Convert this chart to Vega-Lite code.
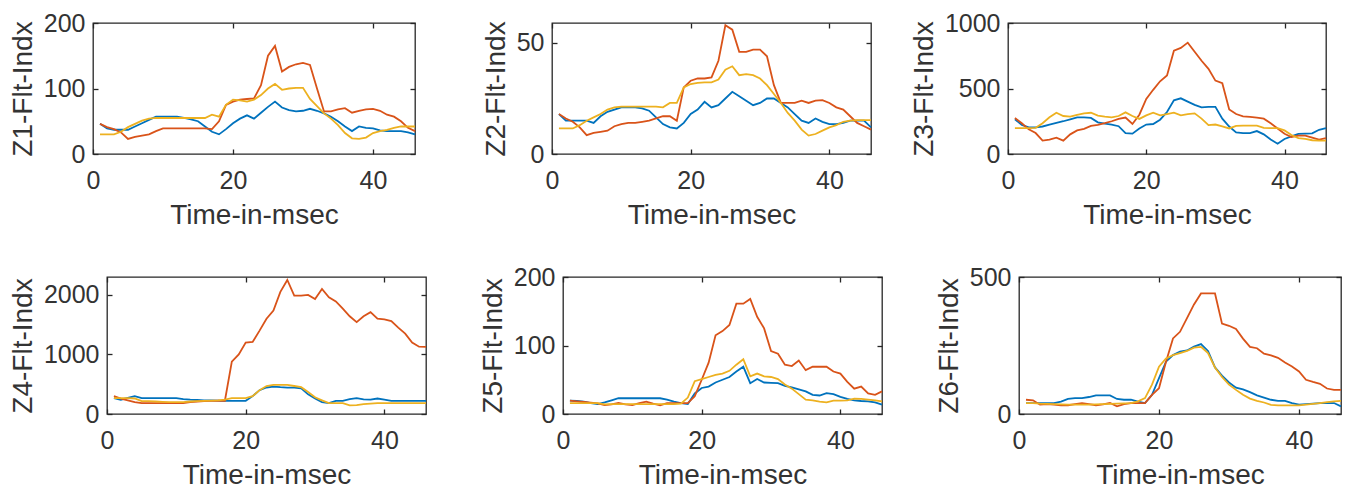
{
"$schema": "https://vega.github.io/schema/vega-lite/v6.json",
"background": "white",
"padding": {"left": 0, "top": 10, "right": 0, "bottom": 0},
"config": {
 "view": {"stroke": "#262626", "strokeWidth": 1.3},
 "axis": {"grid": false, "domain": false, "labelFont": "Liberation Sans", "labelFontSize": 25, "labelColor": "#333333", "labelFlush": false, "titleFont": "Liberation Sans", "titleFontSize": 28, "titleFontWeight": "normal", "titleColor": "#333333", "tickColor": "#262626", "tickSize": -5, "tickWidth": 1.3, "format": "d"},
 "axisX": {"labelPadding": 19, "titlePadding": 8},
 "axisY": {"labelPadding": 13, "titlePadding": 6}
},
"datasets": {
"z1": [
{"t":1,"s":"B","v":46},{"t":2,"s":"B","v":39},{"t":3,"s":"B","v":37},{"t":4,"s":"B","v":37},{"t":5,"s":"B","v":37},{"t":6,"s":"B","v":42},{"t":7,"s":"B","v":47},{"t":8,"s":"B","v":52},{"t":9,"s":"B","v":57},{"t":10,"s":"B","v":57},{"t":11,"s":"B","v":57},{"t":12,"s":"B","v":57},{"t":13,"s":"B","v":55},{"t":14,"s":"B","v":53},{"t":15,"s":"B","v":50},{"t":16,"s":"B","v":42},{"t":17,"s":"B","v":34},{"t":18,"s":"B","v":30},{"t":19,"s":"B","v":38},{"t":20,"s":"B","v":47},{"t":21,"s":"B","v":54},{"t":22,"s":"B","v":59},{"t":23,"s":"B","v":54},{"t":24,"s":"B","v":63},{"t":25,"s":"B","v":72},{"t":26,"s":"B","v":80},{"t":27,"s":"B","v":71},{"t":28,"s":"B","v":67},{"t":29,"s":"B","v":65},{"t":30,"s":"B","v":66},{"t":31,"s":"B","v":69},{"t":32,"s":"B","v":66},{"t":33,"s":"B","v":62},{"t":34,"s":"B","v":57},{"t":35,"s":"B","v":50},{"t":36,"s":"B","v":42},{"t":37,"s":"B","v":35},{"t":38,"s":"B","v":42},{"t":39,"s":"B","v":40},{"t":40,"s":"B","v":39},{"t":41,"s":"B","v":36},{"t":42,"s":"B","v":35},{"t":43,"s":"B","v":35},{"t":44,"s":"B","v":35},{"t":45,"s":"B","v":33},{"t":46,"s":"B","v":30},
{"t":1,"s":"R","v":46},{"t":2,"s":"R","v":41},{"t":3,"s":"R","v":38},{"t":4,"s":"R","v":33},{"t":5,"s":"R","v":23},{"t":6,"s":"R","v":26},{"t":7,"s":"R","v":28},{"t":8,"s":"R","v":30},{"t":9,"s":"R","v":35},{"t":10,"s":"R","v":39},{"t":11,"s":"R","v":39},{"t":12,"s":"R","v":39},{"t":13,"s":"R","v":39},{"t":14,"s":"R","v":39},{"t":15,"s":"R","v":39},{"t":16,"s":"R","v":39},{"t":17,"s":"R","v":38},{"t":18,"s":"R","v":50},{"t":19,"s":"R","v":75},{"t":20,"s":"R","v":80},{"t":21,"s":"R","v":83},{"t":22,"s":"R","v":84},{"t":23,"s":"R","v":85},{"t":24,"s":"R","v":105},{"t":25,"s":"R","v":150},{"t":26,"s":"R","v":165},{"t":27,"s":"R","v":126},{"t":28,"s":"R","v":133},{"t":29,"s":"R","v":137},{"t":30,"s":"R","v":139},{"t":31,"s":"R","v":136},{"t":32,"s":"R","v":100},{"t":33,"s":"R","v":65},{"t":34,"s":"R","v":65},{"t":35,"s":"R","v":68},{"t":36,"s":"R","v":70},{"t":37,"s":"R","v":63},{"t":38,"s":"R","v":66},{"t":39,"s":"R","v":68},{"t":40,"s":"R","v":69},{"t":41,"s":"R","v":66},{"t":42,"s":"R","v":60},{"t":43,"s":"R","v":57},{"t":44,"s":"R","v":50},{"t":45,"s":"R","v":40},{"t":46,"s":"R","v":35},
{"t":1,"s":"Y","v":30},{"t":2,"s":"Y","v":30},{"t":3,"s":"Y","v":30},{"t":4,"s":"Y","v":34},{"t":5,"s":"Y","v":41},{"t":6,"s":"Y","v":46},{"t":7,"s":"Y","v":51},{"t":8,"s":"Y","v":54},{"t":9,"s":"Y","v":55},{"t":10,"s":"Y","v":55},{"t":11,"s":"Y","v":55},{"t":12,"s":"Y","v":55},{"t":13,"s":"Y","v":55},{"t":14,"s":"Y","v":55},{"t":15,"s":"Y","v":55},{"t":16,"s":"Y","v":55},{"t":17,"s":"Y","v":60},{"t":18,"s":"Y","v":57},{"t":19,"s":"Y","v":75},{"t":20,"s":"Y","v":83},{"t":21,"s":"Y","v":82},{"t":22,"s":"Y","v":80},{"t":23,"s":"Y","v":83},{"t":24,"s":"Y","v":90},{"t":25,"s":"Y","v":100},{"t":26,"s":"Y","v":107},{"t":27,"s":"Y","v":98},{"t":28,"s":"Y","v":100},{"t":29,"s":"Y","v":101},{"t":30,"s":"Y","v":101},{"t":31,"s":"Y","v":84},{"t":32,"s":"Y","v":73},{"t":33,"s":"Y","v":62},{"t":34,"s":"Y","v":54},{"t":35,"s":"Y","v":44},{"t":36,"s":"Y","v":32},{"t":37,"s":"Y","v":24},{"t":38,"s":"Y","v":23},{"t":39,"s":"Y","v":25},{"t":40,"s":"Y","v":32},{"t":41,"s":"Y","v":35},{"t":42,"s":"Y","v":37},{"t":43,"s":"Y","v":40},{"t":44,"s":"Y","v":42},{"t":45,"s":"Y","v":42},{"t":46,"s":"Y","v":42}
],
"z2": [
{"t":1,"s":"B","v":18},{"t":2,"s":"B","v":15},{"t":3,"s":"B","v":15},{"t":4,"s":"B","v":15},{"t":5,"s":"B","v":15},{"t":6,"s":"B","v":14},{"t":7,"s":"B","v":17},{"t":8,"s":"B","v":19},{"t":9,"s":"B","v":20},{"t":10,"s":"B","v":21},{"t":11,"s":"B","v":21},{"t":12,"s":"B","v":21},{"t":13,"s":"B","v":20.5},{"t":14,"s":"B","v":19.5},{"t":15,"s":"B","v":16.5},{"t":16,"s":"B","v":13.5},{"t":17,"s":"B","v":12},{"t":18,"s":"B","v":11.5},{"t":19,"s":"B","v":14},{"t":20,"s":"B","v":18},{"t":21,"s":"B","v":20},{"t":22,"s":"B","v":23.5},{"t":23,"s":"B","v":21},{"t":24,"s":"B","v":22},{"t":25,"s":"B","v":25},{"t":26,"s":"B","v":28},{"t":27,"s":"B","v":26},{"t":28,"s":"B","v":24},{"t":29,"s":"B","v":22},{"t":30,"s":"B","v":23},{"t":31,"s":"B","v":25},{"t":32,"s":"B","v":25},{"t":33,"s":"B","v":23},{"t":34,"s":"B","v":21},{"t":35,"s":"B","v":18},{"t":36,"s":"B","v":15},{"t":37,"s":"B","v":14},{"t":38,"s":"B","v":16},{"t":39,"s":"B","v":14.5},{"t":40,"s":"B","v":13.5},{"t":41,"s":"B","v":13.5},{"t":42,"s":"B","v":14},{"t":43,"s":"B","v":15},{"t":44,"s":"B","v":15},{"t":45,"s":"B","v":15},{"t":46,"s":"B","v":12},
{"t":1,"s":"R","v":18},{"t":2,"s":"R","v":16},{"t":3,"s":"R","v":14.5},{"t":4,"s":"R","v":12},{"t":5,"s":"R","v":8.5},{"t":6,"s":"R","v":9.5},{"t":7,"s":"R","v":10},{"t":8,"s":"R","v":10.5},{"t":9,"s":"R","v":12.5},{"t":10,"s":"R","v":13.5},{"t":11,"s":"R","v":14},{"t":12,"s":"R","v":14},{"t":13,"s":"R","v":14.5},{"t":14,"s":"R","v":15},{"t":15,"s":"R","v":16},{"t":16,"s":"R","v":17},{"t":17,"s":"R","v":17},{"t":18,"s":"R","v":15},{"t":19,"s":"R","v":30},{"t":20,"s":"R","v":33},{"t":21,"s":"R","v":34},{"t":22,"s":"R","v":34},{"t":23,"s":"R","v":34.5},{"t":24,"s":"R","v":42},{"t":25,"s":"R","v":58},{"t":26,"s":"R","v":56},{"t":27,"s":"R","v":46},{"t":28,"s":"R","v":46},{"t":29,"s":"R","v":47},{"t":30,"s":"R","v":47},{"t":31,"s":"R","v":44},{"t":32,"s":"R","v":31},{"t":33,"s":"R","v":23},{"t":34,"s":"R","v":23},{"t":35,"s":"R","v":23},{"t":36,"s":"R","v":24},{"t":37,"s":"R","v":23},{"t":38,"s":"R","v":24},{"t":39,"s":"R","v":24.3},{"t":40,"s":"R","v":23},{"t":41,"s":"R","v":21},{"t":42,"s":"R","v":20},{"t":43,"s":"R","v":17},{"t":44,"s":"R","v":14},{"t":45,"s":"R","v":12.5},{"t":46,"s":"R","v":11},
{"t":1,"s":"Y","v":11.5},{"t":2,"s":"Y","v":11.5},{"t":3,"s":"Y","v":11.5},{"t":4,"s":"Y","v":13},{"t":5,"s":"Y","v":15},{"t":6,"s":"Y","v":16.5},{"t":7,"s":"Y","v":18},{"t":8,"s":"Y","v":20},{"t":9,"s":"Y","v":21},{"t":10,"s":"Y","v":21.3},{"t":11,"s":"Y","v":21.3},{"t":12,"s":"Y","v":21.3},{"t":13,"s":"Y","v":21.3},{"t":14,"s":"Y","v":21.3},{"t":15,"s":"Y","v":21.3},{"t":16,"s":"Y","v":21},{"t":17,"s":"Y","v":23},{"t":18,"s":"Y","v":23},{"t":19,"s":"Y","v":30},{"t":20,"s":"Y","v":31.5},{"t":21,"s":"Y","v":32},{"t":22,"s":"Y","v":32.3},{"t":23,"s":"Y","v":32.3},{"t":24,"s":"Y","v":33.5},{"t":25,"s":"Y","v":38},{"t":26,"s":"Y","v":39.5},{"t":27,"s":"Y","v":35.5},{"t":28,"s":"Y","v":36},{"t":29,"s":"Y","v":35.5},{"t":30,"s":"Y","v":34},{"t":31,"s":"Y","v":31},{"t":32,"s":"Y","v":27},{"t":33,"s":"Y","v":23},{"t":34,"s":"Y","v":18.5},{"t":35,"s":"Y","v":15},{"t":36,"s":"Y","v":11},{"t":37,"s":"Y","v":8.3},{"t":38,"s":"Y","v":9},{"t":39,"s":"Y","v":10.5},{"t":40,"s":"Y","v":12},{"t":41,"s":"Y","v":13},{"t":42,"s":"Y","v":14.5},{"t":43,"s":"Y","v":15},{"t":44,"s":"Y","v":15.3},{"t":45,"s":"Y","v":15.3},{"t":46,"s":"Y","v":15.3}
],
"z3": [
{"t":1,"s":"B","v":265},{"t":2,"s":"B","v":222},{"t":3,"s":"B","v":204},{"t":4,"s":"B","v":204},{"t":5,"s":"B","v":210},{"t":6,"s":"B","v":225},{"t":7,"s":"B","v":238},{"t":8,"s":"B","v":250},{"t":9,"s":"B","v":265},{"t":10,"s":"B","v":280},{"t":11,"s":"B","v":280},{"t":12,"s":"B","v":275},{"t":13,"s":"B","v":242},{"t":14,"s":"B","v":232},{"t":15,"s":"B","v":225},{"t":16,"s":"B","v":212},{"t":17,"s":"B","v":160},{"t":18,"s":"B","v":155},{"t":19,"s":"B","v":195},{"t":20,"s":"B","v":225},{"t":21,"s":"B","v":229},{"t":22,"s":"B","v":262},{"t":23,"s":"B","v":320},{"t":24,"s":"B","v":410},{"t":25,"s":"B","v":425},{"t":26,"s":"B","v":400},{"t":27,"s":"B","v":375},{"t":28,"s":"B","v":356},{"t":29,"s":"B","v":360},{"t":30,"s":"B","v":360},{"t":31,"s":"B","v":270},{"t":32,"s":"B","v":210},{"t":33,"s":"B","v":165},{"t":34,"s":"B","v":160},{"t":35,"s":"B","v":160},{"t":36,"s":"B","v":175},{"t":37,"s":"B","v":150},{"t":38,"s":"B","v":110},{"t":39,"s":"B","v":78},{"t":40,"s":"B","v":115},{"t":41,"s":"B","v":135},{"t":42,"s":"B","v":153},{"t":43,"s":"B","v":155},{"t":44,"s":"B","v":158},{"t":45,"s":"B","v":185},{"t":46,"s":"B","v":198},
{"t":1,"s":"R","v":275},{"t":2,"s":"R","v":235},{"t":3,"s":"R","v":188},{"t":4,"s":"R","v":160},{"t":5,"s":"R","v":102},{"t":6,"s":"R","v":110},{"t":7,"s":"R","v":125},{"t":8,"s":"R","v":102},{"t":9,"s":"R","v":150},{"t":10,"s":"R","v":180},{"t":11,"s":"R","v":192},{"t":12,"s":"R","v":215},{"t":13,"s":"R","v":222},{"t":14,"s":"R","v":235},{"t":15,"s":"R","v":250},{"t":16,"s":"R","v":268},{"t":17,"s":"R","v":278},{"t":18,"s":"R","v":229},{"t":19,"s":"R","v":300},{"t":20,"s":"R","v":420},{"t":21,"s":"R","v":490},{"t":22,"s":"R","v":555},{"t":23,"s":"R","v":600},{"t":24,"s":"R","v":789},{"t":25,"s":"R","v":810},{"t":26,"s":"R","v":850},{"t":27,"s":"R","v":780},{"t":28,"s":"R","v":712},{"t":29,"s":"R","v":650},{"t":30,"s":"R","v":560},{"t":31,"s":"R","v":540},{"t":32,"s":"R","v":340},{"t":33,"s":"R","v":305},{"t":34,"s":"R","v":288},{"t":35,"s":"R","v":283},{"t":36,"s":"R","v":277},{"t":37,"s":"R","v":270},{"t":38,"s":"R","v":235},{"t":39,"s":"R","v":195},{"t":40,"s":"R","v":155},{"t":41,"s":"R","v":130},{"t":42,"s":"R","v":140},{"t":43,"s":"R","v":140},{"t":44,"s":"R","v":125},{"t":45,"s":"R","v":110},{"t":46,"s":"R","v":122},
{"t":1,"s":"Y","v":198},{"t":2,"s":"Y","v":198},{"t":3,"s":"Y","v":198},{"t":4,"s":"Y","v":200},{"t":5,"s":"Y","v":235},{"t":6,"s":"Y","v":280},{"t":7,"s":"Y","v":315},{"t":8,"s":"Y","v":290},{"t":9,"s":"Y","v":285},{"t":10,"s":"Y","v":298},{"t":11,"s":"Y","v":310},{"t":12,"s":"Y","v":315},{"t":13,"s":"Y","v":293},{"t":14,"s":"Y","v":285},{"t":15,"s":"Y","v":280},{"t":16,"s":"Y","v":290},{"t":17,"s":"Y","v":318},{"t":18,"s":"Y","v":290},{"t":19,"s":"Y","v":268},{"t":20,"s":"Y","v":295},{"t":21,"s":"Y","v":315},{"t":22,"s":"Y","v":295},{"t":23,"s":"Y","v":305},{"t":24,"s":"Y","v":315},{"t":25,"s":"Y","v":295},{"t":26,"s":"Y","v":305},{"t":27,"s":"Y","v":310},{"t":28,"s":"Y","v":270},{"t":29,"s":"Y","v":220},{"t":30,"s":"Y","v":225},{"t":31,"s":"Y","v":210},{"t":32,"s":"Y","v":195},{"t":33,"s":"Y","v":215},{"t":34,"s":"Y","v":216},{"t":35,"s":"Y","v":216},{"t":36,"s":"Y","v":216},{"t":37,"s":"Y","v":200},{"t":38,"s":"Y","v":198},{"t":39,"s":"Y","v":198},{"t":40,"s":"Y","v":180},{"t":41,"s":"Y","v":145},{"t":42,"s":"Y","v":122},{"t":43,"s":"Y","v":115},{"t":44,"s":"Y","v":105},{"t":45,"s":"Y","v":102},{"t":46,"s":"Y","v":102}
],
"z4": [
{"t":1,"s":"B","v":265},{"t":2,"s":"B","v":240},{"t":3,"s":"B","v":270},{"t":4,"s":"B","v":300},{"t":5,"s":"B","v":266},{"t":6,"s":"B","v":266},{"t":7,"s":"B","v":266},{"t":8,"s":"B","v":266},{"t":9,"s":"B","v":266},{"t":10,"s":"B","v":266},{"t":11,"s":"B","v":250},{"t":12,"s":"B","v":240},{"t":13,"s":"B","v":235},{"t":14,"s":"B","v":230},{"t":15,"s":"B","v":230},{"t":16,"s":"B","v":225},{"t":17,"s":"B","v":222},{"t":18,"s":"B","v":222},{"t":19,"s":"B","v":222},{"t":20,"s":"B","v":222},{"t":21,"s":"B","v":300},{"t":22,"s":"B","v":400},{"t":23,"s":"B","v":445},{"t":24,"s":"B","v":460},{"t":25,"s":"B","v":450},{"t":26,"s":"B","v":444},{"t":27,"s":"B","v":444},{"t":28,"s":"B","v":430},{"t":29,"s":"B","v":330},{"t":30,"s":"B","v":260},{"t":31,"s":"B","v":200},{"t":32,"s":"B","v":183},{"t":33,"s":"B","v":222},{"t":34,"s":"B","v":222},{"t":35,"s":"B","v":250},{"t":36,"s":"B","v":266},{"t":37,"s":"B","v":245},{"t":38,"s":"B","v":240},{"t":39,"s":"B","v":260},{"t":40,"s":"B","v":240},{"t":41,"s":"B","v":222},{"t":42,"s":"B","v":222},{"t":43,"s":"B","v":222},{"t":44,"s":"B","v":222},{"t":45,"s":"B","v":222},{"t":46,"s":"B","v":222},
{"t":1,"s":"R","v":300},{"t":2,"s":"R","v":260},{"t":3,"s":"R","v":230},{"t":4,"s":"R","v":200},{"t":5,"s":"R","v":183},{"t":6,"s":"R","v":183},{"t":7,"s":"R","v":183},{"t":8,"s":"R","v":183},{"t":9,"s":"R","v":183},{"t":10,"s":"R","v":183},{"t":11,"s":"R","v":183},{"t":12,"s":"R","v":200},{"t":13,"s":"R","v":210},{"t":14,"s":"R","v":215},{"t":15,"s":"R","v":220},{"t":16,"s":"R","v":225},{"t":17,"s":"R","v":222},{"t":18,"s":"R","v":880},{"t":19,"s":"R","v":1000},{"t":20,"s":"R","v":1200},{"t":21,"s":"R","v":1210},{"t":22,"s":"R","v":1400},{"t":23,"s":"R","v":1600},{"t":24,"s":"R","v":1737},{"t":25,"s":"R","v":2050},{"t":26,"s":"R","v":2250},{"t":27,"s":"R","v":1987},{"t":28,"s":"R","v":1987},{"t":29,"s":"R","v":2000},{"t":30,"s":"R","v":1931},{"t":31,"s":"R","v":2100},{"t":32,"s":"R","v":1960},{"t":33,"s":"R","v":1890},{"t":34,"s":"R","v":1770},{"t":35,"s":"R","v":1640},{"t":36,"s":"R","v":1543},{"t":37,"s":"R","v":1640},{"t":38,"s":"R","v":1710},{"t":39,"s":"R","v":1600},{"t":40,"s":"R","v":1590},{"t":41,"s":"R","v":1560},{"t":42,"s":"R","v":1450},{"t":43,"s":"R","v":1350},{"t":44,"s":"R","v":1200},{"t":45,"s":"R","v":1130},{"t":46,"s":"R","v":1127},
{"t":1,"s":"Y","v":266},{"t":2,"s":"Y","v":266},{"t":3,"s":"Y","v":266},{"t":4,"s":"Y","v":260},{"t":5,"s":"Y","v":215},{"t":6,"s":"Y","v":215},{"t":7,"s":"Y","v":210},{"t":8,"s":"Y","v":205},{"t":9,"s":"Y","v":200},{"t":10,"s":"Y","v":200},{"t":11,"s":"Y","v":200},{"t":12,"s":"Y","v":210},{"t":13,"s":"Y","v":215},{"t":14,"s":"Y","v":220},{"t":15,"s":"Y","v":225},{"t":16,"s":"Y","v":230},{"t":17,"s":"Y","v":240},{"t":18,"s":"Y","v":266},{"t":19,"s":"Y","v":266},{"t":20,"s":"Y","v":266},{"t":21,"s":"Y","v":300},{"t":22,"s":"Y","v":400},{"t":23,"s":"Y","v":470},{"t":24,"s":"Y","v":488},{"t":25,"s":"Y","v":488},{"t":26,"s":"Y","v":488},{"t":27,"s":"Y","v":470},{"t":28,"s":"Y","v":450},{"t":29,"s":"Y","v":370},{"t":30,"s":"Y","v":280},{"t":31,"s":"Y","v":230},{"t":32,"s":"Y","v":183},{"t":33,"s":"Y","v":183},{"t":34,"s":"Y","v":183},{"t":35,"s":"Y","v":144},{"t":36,"s":"Y","v":150},{"t":37,"s":"Y","v":166},{"t":38,"s":"Y","v":175},{"t":39,"s":"Y","v":183},{"t":40,"s":"Y","v":183},{"t":41,"s":"Y","v":183},{"t":42,"s":"Y","v":183},{"t":43,"s":"Y","v":183},{"t":44,"s":"Y","v":183},{"t":45,"s":"Y","v":183},{"t":46,"s":"Y","v":183}
],
"z5": [
{"t":1,"s":"B","v":19.4},{"t":2,"s":"B","v":19},{"t":3,"s":"B","v":18},{"t":4,"s":"B","v":16},{"t":5,"s":"B","v":14.5},{"t":6,"s":"B","v":17},{"t":7,"s":"B","v":20},{"t":8,"s":"B","v":23},{"t":9,"s":"B","v":23},{"t":10,"s":"B","v":23},{"t":11,"s":"B","v":23},{"t":12,"s":"B","v":23},{"t":13,"s":"B","v":23},{"t":14,"s":"B","v":23},{"t":15,"s":"B","v":21},{"t":16,"s":"B","v":18},{"t":17,"s":"B","v":16},{"t":18,"s":"B","v":14.5},{"t":19,"s":"B","v":30},{"t":20,"s":"B","v":38},{"t":21,"s":"B","v":40},{"t":22,"s":"B","v":46},{"t":23,"s":"B","v":50},{"t":24,"s":"B","v":54},{"t":25,"s":"B","v":62},{"t":26,"s":"B","v":69},{"t":27,"s":"B","v":45},{"t":28,"s":"B","v":51},{"t":29,"s":"B","v":46},{"t":30,"s":"B","v":45.5},{"t":31,"s":"B","v":45},{"t":32,"s":"B","v":41},{"t":33,"s":"B","v":39},{"t":34,"s":"B","v":36},{"t":35,"s":"B","v":33},{"t":36,"s":"B","v":28},{"t":37,"s":"B","v":27},{"t":38,"s":"B","v":30.5},{"t":39,"s":"B","v":29},{"t":40,"s":"B","v":25},{"t":41,"s":"B","v":22},{"t":42,"s":"B","v":20},{"t":43,"s":"B","v":19},{"t":44,"s":"B","v":18.5},{"t":45,"s":"B","v":17},{"t":46,"s":"B","v":13.6},
{"t":1,"s":"R","v":19.4},{"t":2,"s":"R","v":18.5},{"t":3,"s":"R","v":17.5},{"t":4,"s":"R","v":16.5},{"t":5,"s":"R","v":15.5},{"t":6,"s":"R","v":13},{"t":7,"s":"R","v":14},{"t":8,"s":"R","v":16},{"t":9,"s":"R","v":14},{"t":10,"s":"R","v":13},{"t":11,"s":"R","v":16},{"t":12,"s":"R","v":18},{"t":13,"s":"R","v":15},{"t":14,"s":"R","v":12.6},{"t":15,"s":"R","v":16},{"t":16,"s":"R","v":16},{"t":17,"s":"R","v":16},{"t":18,"s":"R","v":16},{"t":19,"s":"R","v":26},{"t":20,"s":"R","v":50},{"t":21,"s":"R","v":75},{"t":22,"s":"R","v":115},{"t":23,"s":"R","v":121},{"t":24,"s":"R","v":130},{"t":25,"s":"R","v":161},{"t":26,"s":"R","v":161},{"t":27,"s":"R","v":168},{"t":28,"s":"R","v":142},{"t":29,"s":"R","v":125},{"t":30,"s":"R","v":92},{"t":31,"s":"R","v":88},{"t":32,"s":"R","v":72},{"t":33,"s":"R","v":70},{"t":34,"s":"R","v":78},{"t":35,"s":"R","v":64},{"t":36,"s":"R","v":69},{"t":37,"s":"R","v":69},{"t":38,"s":"R","v":69},{"t":39,"s":"R","v":62},{"t":40,"s":"R","v":59},{"t":41,"s":"R","v":47},{"t":42,"s":"R","v":37},{"t":43,"s":"R","v":40},{"t":44,"s":"R","v":30},{"t":45,"s":"R","v":28},{"t":46,"s":"R","v":33},
{"t":1,"s":"Y","v":16},{"t":2,"s":"Y","v":16},{"t":3,"s":"Y","v":16},{"t":4,"s":"Y","v":16},{"t":5,"s":"Y","v":16},{"t":6,"s":"Y","v":14},{"t":7,"s":"Y","v":14.5},{"t":8,"s":"Y","v":14.5},{"t":9,"s":"Y","v":14.5},{"t":10,"s":"Y","v":14.5},{"t":11,"s":"Y","v":14.5},{"t":12,"s":"Y","v":14.5},{"t":13,"s":"Y","v":14.5},{"t":14,"s":"Y","v":14.5},{"t":15,"s":"Y","v":14.5},{"t":16,"s":"Y","v":14.5},{"t":17,"s":"Y","v":15},{"t":18,"s":"Y","v":24},{"t":19,"s":"Y","v":48},{"t":20,"s":"Y","v":51},{"t":21,"s":"Y","v":54},{"t":22,"s":"Y","v":57},{"t":23,"s":"Y","v":59},{"t":24,"s":"Y","v":63},{"t":25,"s":"Y","v":72},{"t":26,"s":"Y","v":80},{"t":27,"s":"Y","v":55},{"t":28,"s":"Y","v":59},{"t":29,"s":"Y","v":55},{"t":30,"s":"Y","v":54},{"t":31,"s":"Y","v":51},{"t":32,"s":"Y","v":43},{"t":33,"s":"Y","v":37},{"t":34,"s":"Y","v":29},{"t":35,"s":"Y","v":21},{"t":36,"s":"Y","v":20},{"t":37,"s":"Y","v":18},{"t":38,"s":"Y","v":17},{"t":39,"s":"Y","v":19.4},{"t":40,"s":"Y","v":19.4},{"t":41,"s":"Y","v":20},{"t":42,"s":"Y","v":22.5},{"t":43,"s":"Y","v":22},{"t":44,"s":"Y","v":21},{"t":45,"s":"Y","v":20},{"t":46,"s":"Y","v":18.4}
],
"z6": [
{"t":1,"s":"B","v":40},{"t":2,"s":"B","v":40},{"t":3,"s":"B","v":40},{"t":4,"s":"B","v":40},{"t":5,"s":"B","v":40},{"t":6,"s":"B","v":45},{"t":7,"s":"B","v":55},{"t":8,"s":"B","v":58},{"t":9,"s":"B","v":58},{"t":10,"s":"B","v":62},{"t":11,"s":"B","v":68},{"t":12,"s":"B","v":68},{"t":13,"s":"B","v":68},{"t":14,"s":"B","v":55},{"t":15,"s":"B","v":52},{"t":16,"s":"B","v":52},{"t":17,"s":"B","v":45},{"t":18,"s":"B","v":40},{"t":19,"s":"B","v":70},{"t":20,"s":"B","v":131},{"t":21,"s":"B","v":191},{"t":22,"s":"B","v":215},{"t":23,"s":"B","v":228},{"t":24,"s":"B","v":232},{"t":25,"s":"B","v":246},{"t":26,"s":"B","v":255},{"t":27,"s":"B","v":230},{"t":28,"s":"B","v":170},{"t":29,"s":"B","v":140},{"t":30,"s":"B","v":115},{"t":31,"s":"B","v":96},{"t":32,"s":"B","v":90},{"t":33,"s":"B","v":80},{"t":34,"s":"B","v":68},{"t":35,"s":"B","v":60},{"t":36,"s":"B","v":52},{"t":37,"s":"B","v":48},{"t":38,"s":"B","v":48},{"t":39,"s":"B","v":40},{"t":40,"s":"B","v":34},{"t":41,"s":"B","v":36},{"t":42,"s":"B","v":38},{"t":43,"s":"B","v":40},{"t":44,"s":"B","v":40},{"t":45,"s":"B","v":40},{"t":46,"s":"B","v":28},
{"t":1,"s":"R","v":52},{"t":2,"s":"R","v":50},{"t":3,"s":"R","v":34},{"t":4,"s":"R","v":36},{"t":5,"s":"R","v":34},{"t":6,"s":"R","v":32},{"t":7,"s":"R","v":32},{"t":8,"s":"R","v":36},{"t":9,"s":"R","v":40},{"t":10,"s":"R","v":36},{"t":11,"s":"R","v":32},{"t":12,"s":"R","v":35},{"t":13,"s":"R","v":40},{"t":14,"s":"R","v":28},{"t":15,"s":"R","v":36},{"t":16,"s":"R","v":40},{"t":17,"s":"R","v":40},{"t":18,"s":"R","v":40},{"t":19,"s":"R","v":70},{"t":20,"s":"R","v":94},{"t":21,"s":"R","v":191},{"t":22,"s":"R","v":276},{"t":23,"s":"R","v":300},{"t":24,"s":"R","v":350},{"t":25,"s":"R","v":400},{"t":26,"s":"R","v":440},{"t":27,"s":"R","v":440},{"t":28,"s":"R","v":440},{"t":29,"s":"R","v":330},{"t":30,"s":"R","v":322},{"t":31,"s":"R","v":310},{"t":32,"s":"R","v":275},{"t":33,"s":"R","v":245},{"t":34,"s":"R","v":240},{"t":35,"s":"R","v":220},{"t":36,"s":"R","v":214},{"t":37,"s":"R","v":205},{"t":38,"s":"R","v":188},{"t":39,"s":"R","v":173},{"t":40,"s":"R","v":155},{"t":41,"s":"R","v":125},{"t":42,"s":"R","v":117},{"t":43,"s":"R","v":110},{"t":44,"s":"R","v":93},{"t":45,"s":"R","v":88},{"t":46,"s":"R","v":88},
{"t":1,"s":"Y","v":40},{"t":2,"s":"Y","v":40},{"t":3,"s":"Y","v":38},{"t":4,"s":"Y","v":37},{"t":5,"s":"Y","v":36},{"t":6,"s":"Y","v":35},{"t":7,"s":"Y","v":34},{"t":8,"s":"Y","v":34},{"t":9,"s":"Y","v":34},{"t":10,"s":"Y","v":34},{"t":11,"s":"Y","v":35},{"t":12,"s":"Y","v":36},{"t":13,"s":"Y","v":37},{"t":14,"s":"Y","v":38},{"t":15,"s":"Y","v":39},{"t":16,"s":"Y","v":40},{"t":17,"s":"Y","v":46},{"t":18,"s":"Y","v":58},{"t":19,"s":"Y","v":107},{"t":20,"s":"Y","v":173},{"t":21,"s":"Y","v":203},{"t":22,"s":"Y","v":215},{"t":23,"s":"Y","v":222},{"t":24,"s":"Y","v":230},{"t":25,"s":"Y","v":242},{"t":26,"s":"Y","v":245},{"t":27,"s":"Y","v":222},{"t":28,"s":"Y","v":170},{"t":29,"s":"Y","v":135},{"t":30,"s":"Y","v":107},{"t":31,"s":"Y","v":88},{"t":32,"s":"Y","v":70},{"t":33,"s":"Y","v":56},{"t":34,"s":"Y","v":48},{"t":35,"s":"Y","v":42},{"t":36,"s":"Y","v":33},{"t":37,"s":"Y","v":31.5},{"t":38,"s":"Y","v":31.5},{"t":39,"s":"Y","v":31.5},{"t":40,"s":"Y","v":31.5},{"t":41,"s":"Y","v":34},{"t":42,"s":"Y","v":37},{"t":43,"s":"Y","v":40},{"t":44,"s":"Y","v":43},{"t":45,"s":"Y","v":46},{"t":46,"s":"Y","v":48}
]
},
"spacing": 34,
"vconcat": [
{"spacing": 0, "hconcat": [
 {"width": 8, "height": 1, "view": {"stroke": null}, "data": {"values": []}, "mark": "point", "encoding": {}},
 {"spacing": 137, "bounds": "flush", "hconcat": [
 {"width": 322, "height": 131, "resolve": {"axis": {"x": "independent", "y": "independent"}}, "layer": [
  {"data": {"name": "z1"}, "mark": {"type": "line", "strokeWidth": 1.8},
   "encoding": {"x": {"field": "t", "type": "quantitative", "scale": {"domain": [0, 46], "nice": false, "zero": false}, "axis": {"values": [0, 20, 40], "title": "Time-in-msec"}},
    "y": {"field": "v", "type": "quantitative", "scale": {"domain": [0, 200], "nice": false}, "axis": {"values": [0, 100, 200], "title": "Z1-Flt-Indx"}},
    "color": {"field": "s", "type": "nominal", "scale": {"domain": ["B", "R", "Y"], "range": ["#0072BD", "#D95319", "#EDB120"]}, "legend": null}}},
  {"data": {"values": []}, "mark": "point",
   "encoding": {"x": {"field": "t", "type": "quantitative", "axis": {"orient": "top", "values": [0, 20, 40], "labels": false, "title": null}},
    "y": {"field": "v", "type": "quantitative", "axis": {"orient": "right", "values": [0, 100, 200], "labels": false, "title": null}}}}
 ]},
 {"width": 319, "height": 131, "resolve": {"axis": {"x": "independent", "y": "independent"}}, "layer": [
  {"data": {"name": "z2"}, "mark": {"type": "line", "strokeWidth": 1.8},
   "encoding": {"x": {"field": "t", "type": "quantitative", "scale": {"domain": [0, 46], "nice": false, "zero": false}, "axis": {"values": [0, 20, 40], "title": "Time-in-msec"}},
    "y": {"field": "v", "type": "quantitative", "scale": {"domain": [0, 59], "nice": false}, "axis": {"values": [0, 50], "title": "Z2-Flt-Indx"}},
    "color": {"field": "s", "type": "nominal", "scale": {"domain": ["B", "R", "Y"], "range": ["#0072BD", "#D95319", "#EDB120"]}, "legend": null}}},
  {"data": {"values": []}, "mark": "point",
   "encoding": {"x": {"field": "t", "type": "quantitative", "axis": {"orient": "top", "values": [0, 20, 40], "labels": false, "title": null}},
    "y": {"field": "v", "type": "quantitative", "axis": {"orient": "right", "values": [0, 50], "labels": false, "title": null}}}}
 ]},
 {"width": 318, "height": 131, "resolve": {"axis": {"x": "independent", "y": "independent"}}, "layer": [
  {"data": {"name": "z3"}, "mark": {"type": "line", "strokeWidth": 1.8},
   "encoding": {"x": {"field": "t", "type": "quantitative", "scale": {"domain": [0, 46], "nice": false, "zero": false}, "axis": {"values": [0, 20, 40], "title": "Time-in-msec"}},
    "y": {"field": "v", "type": "quantitative", "scale": {"domain": [0, 1000], "nice": false}, "axis": {"values": [0, 500, 1000], "title": "Z3-Flt-Indx"}},
    "color": {"field": "s", "type": "nominal", "scale": {"domain": ["B", "R", "Y"], "range": ["#0072BD", "#D95319", "#EDB120"]}, "legend": null}}},
  {"data": {"values": []}, "mark": "point",
   "encoding": {"x": {"field": "t", "type": "quantitative", "axis": {"orient": "top", "values": [0, 20, 40], "labels": false, "title": null}},
    "y": {"field": "v", "type": "quantitative", "axis": {"orient": "right", "values": [0, 500, 1000], "labels": false, "title": null}}}}
 ]}
 ]}
]},
{"spacing": 0, "hconcat": [
 {"width": 8, "height": 1, "view": {"stroke": null}, "data": {"values": []}, "mark": "point", "encoding": {}},
 {"spacing": 137, "bounds": "flush", "hconcat": [
 {"width": 319, "height": 137, "resolve": {"axis": {"x": "independent", "y": "independent"}}, "layer": [
  {"data": {"name": "z4"}, "mark": {"type": "line", "strokeWidth": 1.8},
   "encoding": {"x": {"field": "t", "type": "quantitative", "scale": {"domain": [0, 46], "nice": false, "zero": false}, "axis": {"values": [0, 20, 40], "title": "Time-in-msec"}},
    "y": {"field": "v", "type": "quantitative", "scale": {"domain": [0, 2300], "nice": false}, "axis": {"values": [0, 1000, 2000], "title": "Z4-Flt-Indx"}},
    "color": {"field": "s", "type": "nominal", "scale": {"domain": ["B", "R", "Y"], "range": ["#0072BD", "#D95319", "#EDB120"]}, "legend": null}}},
  {"data": {"values": []}, "mark": "point",
   "encoding": {"x": {"field": "t", "type": "quantitative", "axis": {"orient": "top", "values": [0, 20, 40], "labels": false, "title": null}},
    "y": {"field": "v", "type": "quantitative", "axis": {"orient": "right", "values": [0, 1000, 2000], "labels": false, "title": null}}}}
 ]},
 {"width": 319, "height": 137, "resolve": {"axis": {"x": "independent", "y": "independent"}}, "layer": [
  {"data": {"name": "z5"}, "mark": {"type": "line", "strokeWidth": 1.8},
   "encoding": {"x": {"field": "t", "type": "quantitative", "scale": {"domain": [0, 46], "nice": false, "zero": false}, "axis": {"values": [0, 20, 40], "title": "Time-in-msec"}},
    "y": {"field": "v", "type": "quantitative", "scale": {"domain": [0, 200], "nice": false}, "axis": {"values": [0, 100, 200], "title": "Z5-Flt-Indx"}},
    "color": {"field": "s", "type": "nominal", "scale": {"domain": ["B", "R", "Y"], "range": ["#0072BD", "#D95319", "#EDB120"]}, "legend": null}}},
  {"data": {"values": []}, "mark": "point",
   "encoding": {"x": {"field": "t", "type": "quantitative", "axis": {"orient": "top", "values": [0, 20, 40], "labels": false, "title": null}},
    "y": {"field": "v", "type": "quantitative", "axis": {"orient": "right", "values": [0, 100, 200], "labels": false, "title": null}}}}
 ]},
 {"width": 322, "height": 137, "resolve": {"axis": {"x": "independent", "y": "independent"}}, "layer": [
  {"data": {"name": "z6"}, "mark": {"type": "line", "strokeWidth": 1.8},
   "encoding": {"x": {"field": "t", "type": "quantitative", "scale": {"domain": [0, 46], "nice": false, "zero": false}, "axis": {"values": [0, 20, 40], "title": "Time-in-msec"}},
    "y": {"field": "v", "type": "quantitative", "scale": {"domain": [0, 500], "nice": false}, "axis": {"values": [0, 500], "title": "Z6-Flt-Indx"}},
    "color": {"field": "s", "type": "nominal", "scale": {"domain": ["B", "R", "Y"], "range": ["#0072BD", "#D95319", "#EDB120"]}, "legend": null}}},
  {"data": {"values": []}, "mark": "point",
   "encoding": {"x": {"field": "t", "type": "quantitative", "axis": {"orient": "top", "values": [0, 20, 40], "labels": false, "title": null}},
    "y": {"field": "v", "type": "quantitative", "axis": {"orient": "right", "values": [0, 500], "labels": false, "title": null}}}}
 ]}
 ]}
]}
]
}
